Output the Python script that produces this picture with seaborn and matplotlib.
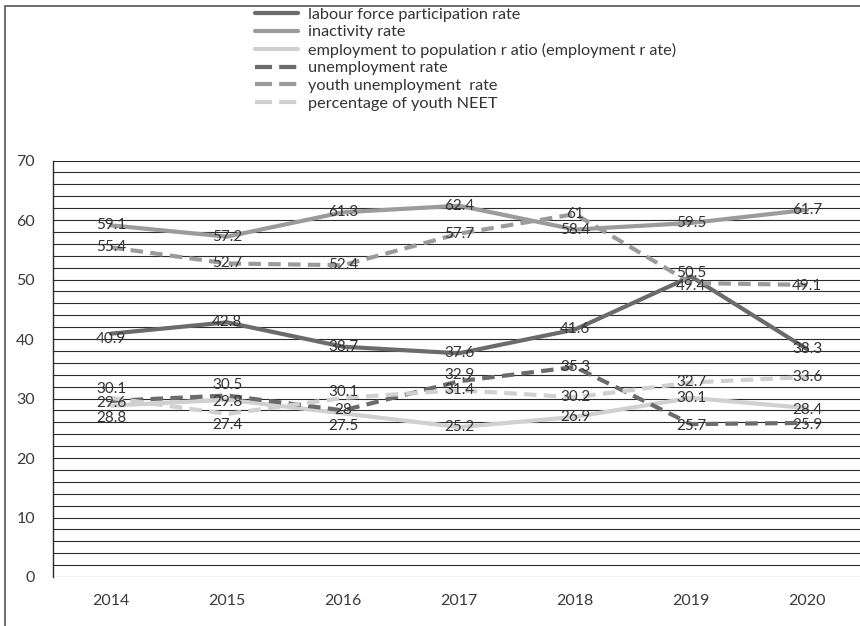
import numpy as np
import pandas as pd
import matplotlib
matplotlib.use("Agg")
import matplotlib.pyplot as plt
import seaborn as sns
from matplotlib.patches import Rectangle
from matplotlib.lines import Line2D

# ---------------- data ----------------
years = ["2014", "2015", "2016", "2017", "2018", "2019", "2020"]
series_names = [
    "labour force participation rate",
    "inactivity rate",
    "employment to population r atio (employment r ate)",
    "unemployment rate",
    "youth unemployment  rate",
    "percentage of youth NEET",
]
labour_force = [40.9, 42.8, 38.7, 37.6, 41.6, 50.5, 38.3]
inactivity = [59.1, 57.2, 61.3, 62.4, 58.4, 59.5, 61.7]
employment = [28.8, 29.8, 27.5, 25.2, 26.9, 30.1, 28.4]
unemployment = [29.6, 30.5, 28.0, 32.9, 35.3, 25.7, 25.9]
youth_unemployment = [55.4, 52.7, 52.4, 57.7, 61.0, 49.4, 49.1]
neet = [30.1, 27.4, 30.1, 31.4, 30.2, 32.7, 33.6]
y_ticks = [0, 10, 20, 30, 40, 50, 60, 70]

all_values = [labour_force, inactivity, employment, unemployment, youth_unemployment, neet]

# ---------------- styles ----------------
colors = ["#6b6b6b", "#9b9b9b", "#d0d0d0", "#6b6b6b", "#9b9b9b", "#d0d0d0"]
dash_styles = ["", "", "", (3, 1.75), (3, 1.75), (3, 1.75)]

# label offsets in pixels (manual adjustments like in the original), keyed by (series index, year index)
label_offsets = {
    (5, 0): 8.6, (3, 0): -2.4, (2, 0): -12.7,
    (3, 1): 10.5, (2, 1): -2.0, (5, 1): -11.0,
    (5, 2): 6.0, (3, 2): 0.0, (2, 2): -13.0,
    (3, 3): 6.0,
    (0, 5): 4.0, (4, 5): -3.0, (3, 5): -2.0,
    (2, 6): -2.0, (3, 6): -2.0, (4, 6): -1.0,
    (0, 0): -5.0,
}

rows = []
for name, vals in zip(series_names, all_values):
    for i, v in enumerate(vals):
        rows.append({"series": name, "pos": i, "value": v})
df = pd.DataFrame(rows)

sns.set_theme(style="white")
plt.rcParams["font.family"] = ["Lato", "DejaVu Sans"]

W, H = 860, 626
fig = plt.figure(figsize=(W / 100, H / 100), dpi=100)

left_px, right_px, top_px, bottom_px = 53, 865, 160.5, 577
ax = fig.add_axes([left_px / W, 1 - bottom_px / H, (right_px - left_px) / W, (bottom_px - top_px) / H])

# gridlines every 2 units
for g in np.arange(0, 71, 2):
    ax.axhline(g, color="#2a2a2a", lw=0.8, zorder=0)

sns.lineplot(
    data=df, x="pos", y="value", hue="series", style="series",
    hue_order=series_names, style_order=series_names,
    palette=dict(zip(series_names, colors)),
    dashes=dict(zip(series_names, dash_styles)),
    linewidth=3.0, ax=ax, legend=False, sort=False, zorder=2,
)

ax.set_xlim(-0.5, 6.5)
ax.set_ylim(0, 70)
ax.set_xticks(range(len(years)))
ax.set_xticklabels(years)
ax.set_yticks(y_ticks)
ax.set_xlabel("")
ax.set_ylabel("")
ax.tick_params(axis="both", length=0, labelsize=11.5, labelcolor="#3a3a3a")
ax.tick_params(axis="y", pad=13)
ax.tick_params(axis="x", pad=12)
for s in ["top", "right", "bottom"]:
    ax.spines[s].set_visible(False)
ax.spines["left"].set_color("#2a2a2a")
ax.spines["left"].set_linewidth(1.0)

# data labels
for si, vals in enumerate(all_values):
    for i, v in enumerate(vals):
        off = label_offsets.get((si, i), 0.0)
        ax.annotate(f"{v:g}", xy=(i, v), xytext=(0, off), textcoords="offset pixels",
                    ha="center", va="center", fontsize=11, color="#333333", zorder=5)

# legend
handles = [Line2D([0], [0], color=c, lw=3.0,
                  linestyle="-" if d == "" else (0, (4.1, 1.7)))
           for c, d in zip(colors, dash_styles)]
fig.legend(handles, series_names, loc="upper left", bbox_to_anchor=(244 / W, 1 + 4 / H),
           frameon=False, fontsize=11.7, handlelength=2.6, handletextpad=0.65,
           labelspacing=0.2, borderpad=0.2, labelcolor="#333333")

# outer frame of the chart
fig.add_artist(Rectangle((5 / W, -0.1), 1.2, 1 - 5.5 / H + 0.1, transform=fig.transFigure,
                         fill=False, edgecolor="#555555", lw=1.2))

fig.savefig("out.png", dpi=100)
